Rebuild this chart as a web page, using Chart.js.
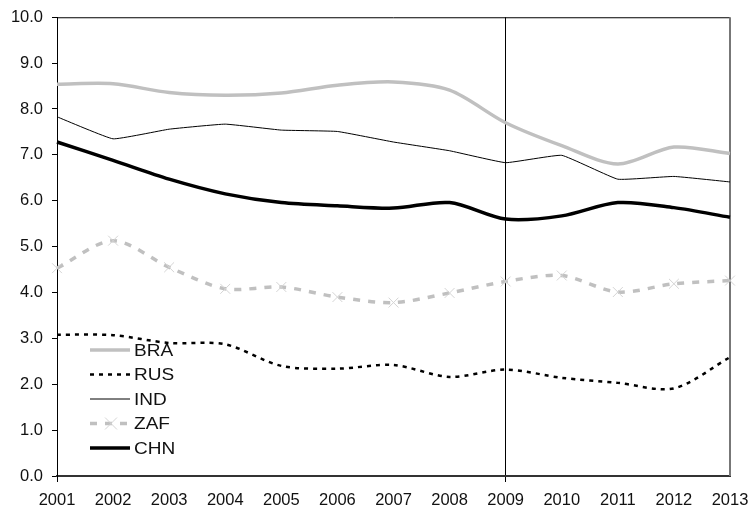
<!DOCTYPE html>
<html>
<head>
<meta charset="utf-8">
<script src="https://cdn.jsdelivr.net/npm/chart.js@4/dist/chart.umd.min.js"></script>
<style>
  html, body { margin: 0; padding: 0; background: #fff; }
  #wrap { width: 754px; height: 515px; position: relative; }
</style>
</head>
<body>
<div id="wrap"><canvas id="chart"></canvas></div>
<script>
const YEARS = ['2001','2002','2003','2004','2005','2006','2007','2008','2009','2010','2011','2012','2013'];
const BRA = [8.54, 8.55, 8.36, 8.30, 8.35, 8.52, 8.59, 8.41, 7.70, 7.20, 6.80, 7.17, 7.03];
const RUS = [3.08, 3.07, 2.90, 2.87, 2.40, 2.34, 2.42, 2.16, 2.32, 2.14, 2.03, 1.91, 2.59];
const IND = [7.83, 7.35, 7.56, 7.67, 7.54, 7.51, 7.28, 7.09, 6.83, 6.99, 6.47, 6.53, 6.41];
const ZAF = [4.53, 5.13, 4.55, 4.08, 4.12, 3.90, 3.78, 3.99, 4.24, 4.37, 4.01, 4.19, 4.26];
const CHN = [7.28, 6.88, 6.47, 6.15, 5.96, 5.89, 5.84, 5.96, 5.60, 5.67, 5.96, 5.85, 5.64];
const MARK_YEAR = '2009';

const FAMILY = '"Liberation Sans", Arial, sans-serif';
const FONT = { family: FAMILY, size: 16.5, lineHeight: 1 };
const LIGHT = '#c0c0c0';

// ─── legend drawn inside the plot area, bottom left ───
const innerLegend = {
  id: 'innerLegend',
  afterDatasetsDraw(chart) {
    const ctx = chart.ctx;
    const x0 = 90, x1 = 130, top = 350, step = 24.5;
    chart.data.datasets.forEach((ds, i) => {
      const y = top + i * step;
      ctx.save();
      ctx.strokeStyle = ds.borderColor;
      ctx.lineWidth = ds.borderWidth;
      ctx.setLineDash(ds.borderDash || []);
      ctx.beginPath(); ctx.moveTo(x0, y); ctx.lineTo(x1, y); ctx.stroke();
      if (ds.pointStyle === 'crossRot') {
        ctx.setLineDash([]);
        ctx.strokeStyle = ds.pointBorderColor;
        ctx.lineWidth = 1;
        ctx.beginPath();
        ctx.moveTo(105, y - 6); ctx.lineTo(117, y + 6);
        ctx.moveTo(117, y - 6); ctx.lineTo(105, y + 6);
        ctx.stroke();
      }
      ctx.fillStyle = '#111';
      ctx.font = `17px ${FAMILY}`;
      ctx.textBaseline = 'middle';
      ctx.translate(134, y + 1);
      ctx.scale(1.12, 1);
      ctx.fillText(ds.label, 0, 0);
      ctx.restore();
    });
  }
};

// ─── top and right frame of the plot ───
const frame = {
  id: 'frame',
  beforeDatasetsDraw(chart) {
    const { ctx, chartArea: a } = chart;
    ctx.save();
    ctx.strokeStyle = '#000';
    ctx.lineWidth = 1;
    ctx.beginPath(); ctx.moveTo(a.left, a.top + 0.5); ctx.lineTo(a.right, a.top + 0.5); ctx.stroke();
    ctx.strokeStyle = '#777';
    ctx.lineWidth = 2;
    ctx.beginPath(); ctx.moveTo(a.right, a.top); ctx.lineTo(a.right, a.bottom); ctx.stroke();
    ctx.restore();
  }
};

const markColor = c => (YEARS[c.index] === MARK_YEAR || c.index === 0) ? '#000' : 'rgba(0,0,0,0)';

new Chart(document.getElementById('chart').getContext('2d'), {
  type: 'line',
  data: {
    labels: YEARS,
    datasets: [
      { label: 'BRA', data: BRA, borderColor: LIGHT, borderWidth: 3.5, pointRadius: 0, tension: 0.3 },
      { label: 'RUS', data: RUS, borderColor: '#000', borderWidth: 2.5, borderDash: [4, 5], pointRadius: 0, tension: 0.3 },
      { label: 'IND', data: IND, borderColor: '#000', borderWidth: 1, pointRadius: 0, tension: 0.1 },
      { label: 'ZAF', data: ZAF, borderColor: LIGHT, borderWidth: 3.5, borderDash: [7, 8], pointStyle: 'crossRot',
        pointRadius: 7, pointBorderColor: '#d4d4d4', pointBorderWidth: 1, pointBackgroundColor: 'transparent', tension: 0.3 },
      { label: 'CHN', data: CHN, borderColor: '#000', borderWidth: 3.5, pointRadius: 0, tension: 0.3 }
    ]
  },
  options: {
    animation: false,
    responsive: true,
    maintainAspectRatio: false,
    layout: { padding: { top: 6, right: 0, left: 0, bottom: 0 } },
    plugins: { legend: { display: false }, tooltip: { enabled: false } },
    scales: {
      x: {
        offset: false,
        grid: { color: markColor, tickColor: markColor, lineWidth: 1, tickLength: 6 },
        border: { color: '#333', width: 2 },
        ticks: { color: '#111', font: FONT, maxRotation: 0, autoSkip: false, padding: 10 },
        afterFit: s => { s.height = 39; s.paddingRight = 24; s.paddingLeft = 0; }
      },
      y: {
        min: 0, max: 10,
        grid: { drawOnChartArea: false, tickColor: '#000', tickLength: 5 },
        border: { color: '#000', width: 1 },
        ticks: { stepSize: 1, color: '#111', font: FONT, padding: 9, callback: v => v.toFixed(1) },
        afterFit: s => { s.width = 57; }
      }
    }
  },
  plugins: [frame, innerLegend]
});
</script>
</body>
</html>
